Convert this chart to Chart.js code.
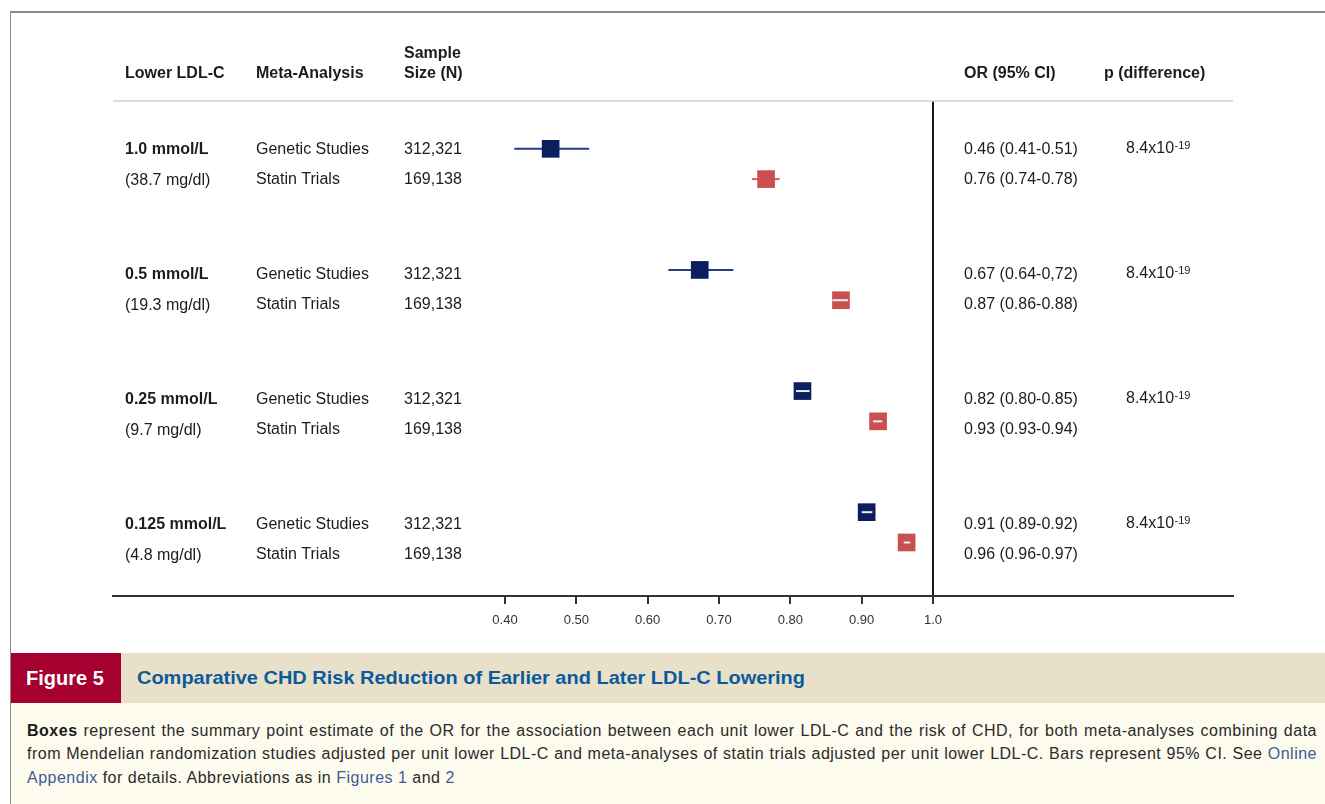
<!DOCTYPE html>
<html>
<head>
<meta charset="utf-8">
<script src="https://cdn.jsdelivr.net/npm/chart.js@4/dist/chart.umd.min.js"></script>
<style>
  html, body { margin: 0; padding: 0; }
  body { width: 1325px; height: 804px; overflow: hidden; background: #ffffff; position: relative; font-family: "Liberation Sans", Arial, sans-serif; }
  #frame { position: absolute; left: 10px; top: 11px; width: 1330px; height: 800px; border-left: 1px solid #8a8a8a; border-top: 2px solid #8a8a8a; box-sizing: border-box; }
  #chartWrap { position: absolute; left: 0; top: 0; width: 1325px; height: 650px; }
  #banner { position: absolute; left: 11px; top: 653px; width: 1314px; height: 50px; background: #e8e0c9; }
  #figLabel { position: absolute; left: 0; top: 0; width: 110px; height: 50px; background: #a5002f; color: #fff; font-weight: bold; font-size: 20px; line-height: 50px; padding-left: 15px; box-sizing: border-box; }
  #figTitle { position: absolute; left: 126px; top: 0; height: 50px; line-height: 50px; color: #0b5a9c; font-weight: bold; font-size: 19px; white-space: nowrap; transform-origin: left center; }
  #captionBody { position: absolute; left: 11px; top: 703px; width: 1314px; height: 101px; background: #fdfbee; }
  .cline { position: absolute; left: 16px; width: 1290px; font-size: 16px; letter-spacing: 0.5px; line-height: 24px; color: #2a2a2a; white-space: nowrap; }
  .just { text-align: justify; text-align-last: justify; white-space: normal; }
  .lnk { color: #3d5a99; }
</style>
</head>
<body>
<div id="frame"></div>
<div id="chartWrap"><canvas id="c" width="1325" height="650"></canvas></div>
<div id="banner">
  <div id="figLabel">Figure 5</div>
  <div id="figTitle">Comparative CHD Risk Reduction of Earlier and Later LDL-C Lowering</div>
</div>
<div id="captionBody">
  <div class="cline just" style="top:16px;"><b style="color:#1a1a1a">Boxes</b> represent the summary point estimate of the OR for the association between each unit lower LDL-C and the risk of CHD, for both meta-analyses combining data</div>
  <div class="cline just" style="top:39px;">from Mendelian randomization studies adjusted per unit lower LDL-C and meta-analyses of statin trials adjusted per unit lower LDL-C. Bars represent 95% CI. See <span class="lnk">Online</span></div>
  <div class="cline" style="top:63px;"><span class="lnk">Appendix</span> for details. Abbreviations as in <span class="lnk">Figures 1</span> and <span class="lnk">2</span></div>
</div>
<script>
// ---- data ----
const ldlGroups = ['1.0 mmol/L', '0.5 mmol/L', '0.25 mmol/L', '0.125 mmol/L'];
const ldlGroupsMg = ['(38.7 mg/dl)', '(19.3 mg/dl)', '(9.7 mg/dl)', '(4.8 mg/dl)'];
const analyses = ['Genetic Studies', 'Statin Trials'];
const sampleSizes = ['312,321', '169,138'];

// plotted values (read from box / bar positions)
const geneticOR    = [0.464, 0.673, 0.817, 0.907];
const geneticLower = [0.413, 0.629, 0.808, 0.900];
const geneticUpper = [0.518, 0.720, 0.827, 0.915];
const statinOR     = [0.766, 0.871, 0.923, 0.963];
const statinLower  = [0.746, 0.859, 0.916, 0.959];
const statinUpper  = [0.785, 0.881, 0.929, 0.968];

// printed text columns
const geneticORText = ['0.46 (0.41-0.51)', '0.67 (0.64-0,72)', '0.82 (0.80-0.85)', '0.91 (0.89-0.92)'];
const statinORText  = ['0.76 (0.74-0.78)', '0.87 (0.86-0.88)', '0.93 (0.93-0.94)', '0.96 (0.96-0.97)'];
const pDiffBase = ['8.4x10', '8.4x10', '8.4x10', '8.4x10'];
const pDiffExp  = ['-19', '-19', '-19', '-19'];

const xTickValues = [0.4, 0.5, 0.6, 0.7, 0.8, 0.9, 1.0];
const xTickLabels = ['0.40', '0.50', '0.60', '0.70', '0.80', '0.90', '1.0'];

// ---- styles ----
const NAVY = '#0b1f5e', NAVY_BAR = '#2a3b82';
const RED = '#c9504e', RED_BAR = '#d4625f';
const FONT = '"Liberation Sans", Arial, sans-serif';
const TXT = '#1c1c1c';

const rowY = (g, s) => g * 4 + s; // slot index on the y scale

const geneticPts = geneticOR.map((v, g) => ({ x: v, y: rowY(g, 0) }));
const statinPts  = statinOR.map((v, g) => ({ x: v, y: rowY(g, 1) }));

const BOX_R = 12.5; // rect point radius -> ~17.7px square
const boxHalf = BOX_R * Math.SQRT1_2;

const ciPlugin = {
  id: 'ci',
  beforeDatasetsDraw(chart) {
    const { ctx, scales: { x, y } } = chart;
    ctx.save();
    ctx.lineWidth = 2;
    const draw = (ors, lo, hi, s, col) => {
      ors.forEach((v, g) => {
        const cx = x.getPixelForValue(v), cy = y.getPixelForValue(rowY(g, s));
        const x1 = x.getPixelForValue(lo[g]), x2 = x.getPixelForValue(hi[g]);
        if (x1 < cx - boxHalf || x2 > cx + boxHalf) {
          ctx.strokeStyle = col;
          ctx.beginPath(); ctx.moveTo(x1, cy); ctx.lineTo(x2, cy); ctx.stroke();
        }
      });
    };
    draw(geneticOR, geneticLower, geneticUpper, 0, NAVY_BAR);
    draw(statinOR, statinLower, statinUpper, 1, RED_BAR);
    ctx.restore();
  },
  afterDatasetsDraw(chart) {
    const { ctx, scales: { x, y } } = chart;
    ctx.save();
    ctx.lineWidth = 2;
    ctx.strokeStyle = '#eeeef4';
    const draw = (ors, lo, hi, s) => {
      ors.forEach((v, g) => {
        const cx = x.getPixelForValue(v), cy = y.getPixelForValue(rowY(g, s));
        const x1 = x.getPixelForValue(lo[g]), x2 = x.getPixelForValue(hi[g]);
        if (x1 >= cx - boxHalf && x2 <= cx + boxHalf) {
          ctx.beginPath(); ctx.moveTo(x1, cy); ctx.lineTo(x2, cy); ctx.stroke();
        }
      });
    };
    draw(geneticOR, geneticLower, geneticUpper, 0);
    draw(statinOR, statinLower, statinUpper, 1);
    ctx.restore();
  }
};

const tablePlugin = {
  id: 'table',
  afterDraw(chart) {
    const { ctx, chartArea } = chart;
    ctx.save();
    // header rule
    ctx.strokeStyle = '#d2d2d2';
    ctx.lineWidth = 1.5;
    ctx.beginPath(); ctx.moveTo(chartArea.left, chartArea.top); ctx.lineTo(chartArea.right, chartArea.top); ctx.stroke();

    ctx.fillStyle = TXT;
    ctx.textBaseline = 'middle';
    ctx.textAlign = 'left';
    ctx.font = 'bold 16px ' + FONT;
    ctx.fillText('Lower LDL-C', 125, 74);
    ctx.fillText('Meta-Analysis', 256, 74);
    ctx.fillText('Sample', 404, 54);
    ctx.fillText('Size (N)', 404, 74);
    ctx.fillText('OR (95% CI)', 964, 74);
    ctx.fillText('p (difference)', 1104, 74);

    const ty = (g, s) => 150 + g * 125 + s * 29.8;
    ldlGroups.forEach((lab, g) => {
      ctx.font = 'bold 16px ' + FONT;
      ctx.fillText(lab, 125, ty(g, 0));
      ctx.font = '16px ' + FONT;
      ctx.fillText(ldlGroupsMg[g], 125, ty(g, 1) + 1);
      analyses.forEach((a, s) => {
        ctx.fillText(a, 256, ty(g, s));
        ctx.fillText(sampleSizes[s], 404, ty(g, s));
      });
      ctx.fillText(geneticORText[g], 964, ty(g, 0));
      ctx.fillText(statinORText[g], 964, ty(g, 1));
      ctx.fillText(pDiffBase[g], 1126, ty(g, 0) - 1);
      const w = ctx.measureText(pDiffBase[g]).width;
      ctx.font = '11px ' + FONT;
      ctx.fillText(pDiffExp[g], 1126 + w + 0.5, ty(g, 0) - 4);
    });
    ctx.restore();
  }
};

new Chart(document.getElementById('c'), {
  type: 'scatter',
  data: {
    datasets: [
      { label: analyses[0], data: geneticPts, pointStyle: 'rect', pointRadius: BOX_R, pointHoverRadius: BOX_R, backgroundColor: NAVY, borderWidth: 0 },
      { label: analyses[1], data: statinPts, pointStyle: 'rect', pointRadius: BOX_R, pointHoverRadius: BOX_R, backgroundColor: RED, borderWidth: 0 }
    ]
  },
  options: {
    responsive: false,
    animation: false,
    events: [],
    layout: { padding: { left: 113, right: 92, top: 101, bottom: 12.4 } },
    plugins: { legend: { display: false }, tooltip: { enabled: false } },
    scales: {
      x: {
        type: 'linear',
        position: 'bottom',
        min: -0.14953,
        max: 1.42056,
        afterBuildTicks: (scale) => { scale.ticks = xTickValues.map(v => ({ value: v })); },
        ticks: {
          autoSkip: false, maxRotation: 0, padding: 9,
          color: '#333', font: { family: FONT, size: 13 },
          callback: (val, idx) => xTickLabels[idx]
        },
        grid: {
          display: true,
          drawOnChartArea: true,
          drawTicks: true,
          tickLength: 8,
          tickColor: '#333',
          tickWidth: 2,
          color: (c) => (c.tick && c.tick.value === 1 ? '#1a1a1a' : 'rgba(0,0,0,0)'),
          lineWidth: 2
        },
        border: { display: true, color: '#333', width: 2 }
      },
      y: {
        type: 'linear',
        display: false,
        reverse: true,
        min: -1.579,
        max: 14.768
      }
    }
  },
  plugins: [ciPlugin, tablePlugin]
});

// fit the banner title to its printed width
(function () {
  const el = document.getElementById('figTitle');
  const w = el.getBoundingClientRect().width;
  const target = 668;
  if (w > 0) el.style.transform = 'scaleX(' + (target / w).toFixed(4) + ')';
})();
</script>
</body>
</html>
